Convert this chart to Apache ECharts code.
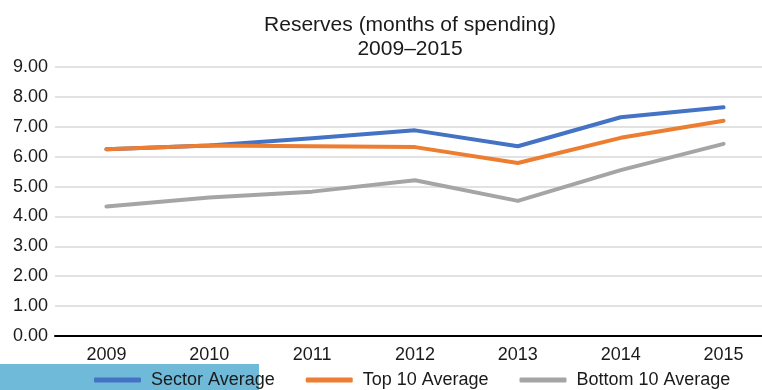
<!DOCTYPE html>
<html>
<head>
<meta charset="utf-8">
<script src="https://cdn.jsdelivr.net/npm/echarts@6/dist/echarts.min.js"></script>
<style>
  html, body { margin: 0; padding: 0; background: #fff; overflow: hidden; width: 762px; height: 390px; }
  /* plot area runs past the right edge of the window, so the canvas is wider */
  #chart { width: 776px; height: 390px; }
</style>
</head>
<body>
<div id="chart"></div>
<script>
// Reserves, in months of spending, by year
var years = ['2009', '2010', '2011', '2012', '2013', '2014', '2015'];
var sectorAverage = [6.25, 6.37, 6.62, 6.88, 6.35, 7.32, 7.65];
var top10Average = [6.25, 6.37, 6.35, 6.32, 5.79, 6.63, 7.20];
var bottom10Average = [4.33, 4.63, 4.83, 5.21, 4.52, 5.55, 6.43];
var seriesNames = ['Sector Average', 'Top 10 Average', 'Bottom 10 Average'];
var seriesColors = ['#4472C4', '#ED7D31', '#A5A5A5'];
var titleLines = ['Reserves (months of spending)', '2009\u20132015'];

var font = '"Liberation Sans", Arial, Helvetica, sans-serif';

function lineSeries(name, data, color) {
  return {
    name: name,
    type: 'line',
    data: data,
    showSymbol: false,
    symbol: 'none',
    lineStyle: { color: color, width: 4, cap: 'round', join: 'round' },
    itemStyle: { color: color },
    emphasis: { disabled: true }
  };
}

function titleText(text, y) {
  return {
    type: 'text',
    x: 410,
    y: y,
    z: 10,
    style: {
      text: text,
      fill: '#1a1a1a',
      font: '21px ' + font,
      textAlign: 'center',
      textVerticalAlign: 'middle'
    }
  };
}

var chart = echarts.init(document.getElementById('chart'), null, { renderer: 'canvas' });
chart.setOption({
  animation: false,
  backgroundColor: '#ffffff',
  graphic: [
    {
      type: 'rect',
      z: 0,
      shape: { x: 0, y: 364, width: 259, height: 26 },
      style: { fill: '#70BAD9' }
    },
    titleText(titleLines[0], 25),
    titleText(titleLines[1], 49)
  ],
  legend: {
    data: seriesNames,
    left: 89,
    top: 366,
    itemWidth: 47,
    itemHeight: 5,
    itemGap: 31,
    icon: 'roundRect',
    z: 5,
    textStyle: { fontFamily: font, fontSize: 18, color: '#1a1a1a', padding: [0, 0, 0, 5] }
  },
  grid: { left: 55, top: 67, right: 1, height: 269, containLabel: false },
  xAxis: {
    type: 'category',
    data: years,
    boundaryGap: true,
    axisLine: { show: true, lineStyle: { color: '#000000', width: 2 } },
    axisTick: { show: false },
    axisLabel: { fontFamily: font, fontSize: 18, color: '#1a1a1a', margin: 10 },
    splitLine: { show: false }
  },
  yAxis: {
    type: 'value',
    min: 0,
    max: 9,
    interval: 1,
    axisLine: { show: false },
    axisTick: { show: false },
    axisLabel: {
      fontFamily: font, fontSize: 18, color: '#1a1a1a', margin: 7,
      formatter: function (v) { return v.toFixed(2); }
    },
    splitLine: { lineStyle: { color: '#d9d9d9', width: 1.5 } }
  },
  series: [
    lineSeries(seriesNames[0], sectorAverage, seriesColors[0]),
    lineSeries(seriesNames[1], top10Average, seriesColors[1]),
    lineSeries(seriesNames[2], bottom10Average, seriesColors[2])
  ]
});
</script>
</body>
</html>
